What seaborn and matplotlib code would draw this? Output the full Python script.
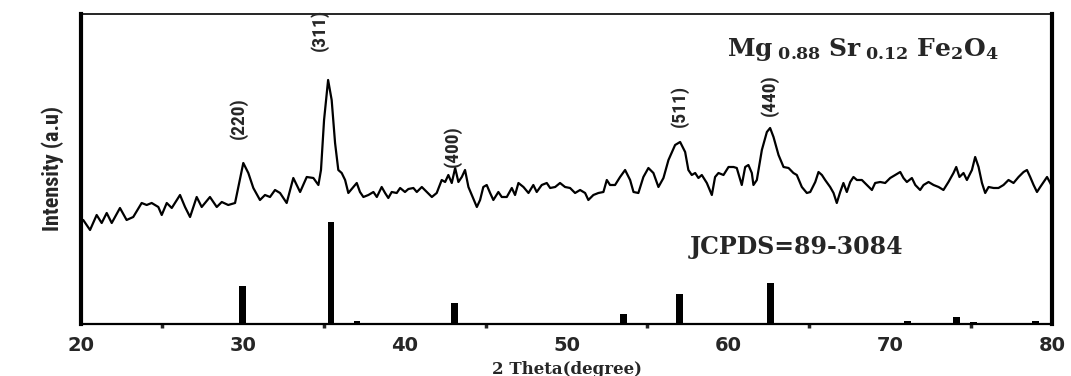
"""XRD pattern of Mg0.88Sr0.12Fe2O4 with JCPDS 89-3084 reference sticks."""

import matplotlib

matplotlib.use("Agg")
import matplotlib.pyplot as plt
import pandas as pd
import seaborn as sns
from matplotlib.ticker import MultipleLocator

TWO_THETA = [
    20.14, 20.56, 20.97, 21.28, 21.59, 21.90, 22.41, 22.82, 23.23, 23.75,
    24.06, 24.37, 24.78, 24.99, 25.30, 25.61, 26.12, 26.43, 26.74, 27.15,
    27.46, 27.97, 28.39, 28.70, 29.10, 29.52, 30.03, 30.34, 30.65, 31.06,
    31.37, 31.68, 31.99, 32.30, 32.71, 33.12, 33.54, 33.95, 34.36, 34.67,
    34.83, 35.02, 35.27, 35.49, 35.70, 35.90, 36.11, 36.32, 36.52, 36.83,
    37.04, 37.24, 37.45, 37.76, 38.07, 38.28, 38.58, 38.79, 38.99, 39.20,
    39.51, 39.72, 40.02, 40.23, 40.54, 40.75, 41.06, 41.37, 41.68, 41.98,
    42.29, 42.50, 42.70, 42.91, 43.12, 43.32, 43.53, 43.73, 43.94, 44.15,
    44.46, 44.66, 44.86, 45.07, 45.28, 45.48, 45.79, 46.00, 46.31, 46.62,
    46.82, 47.03, 47.34, 47.65, 47.95, 48.16, 48.47, 48.78, 48.99, 49.30,
    49.60, 49.91, 50.22, 50.53, 50.84, 51.15, 51.35, 51.66, 51.97, 52.28,
    52.49, 52.69, 53.00, 53.31, 53.62, 53.93, 54.14, 54.44, 54.75, 55.06,
    55.37, 55.68, 55.99, 56.30, 56.71, 57.02, 57.33, 57.53, 57.74, 57.95,
    58.15, 58.36, 58.67, 58.98, 59.18, 59.39, 59.70, 60.01, 60.32, 60.52,
    60.83, 61.04, 61.24, 61.45, 61.55, 61.76, 62.07, 62.38, 62.58, 62.79,
    63.10, 63.41, 63.72, 64.02, 64.23, 64.54, 64.85, 65.06, 65.37, 65.57,
    65.78, 65.98, 66.29, 66.50, 66.70, 66.91, 67.11, 67.32, 67.53, 67.73,
    67.94, 68.25, 68.56, 68.87, 69.07, 69.38, 69.69, 70.00, 70.31, 70.62,
    70.82, 71.03, 71.34, 71.55, 71.85, 72.06, 72.37, 72.68, 72.99, 73.29,
    73.60, 73.91, 74.08, 74.28, 74.53, 74.74, 75.05, 75.25, 75.46, 75.67,
    75.87, 76.08, 76.39, 76.69, 77.00, 77.31, 77.62, 77.93, 78.24, 78.45,
    78.65, 78.86, 79.07, 79.27, 79.48, 79.69, 79.89, 80.00,
]
INTENSITY = [
    104, 94, 109, 101, 111, 101, 116, 104, 107, 121,
    119, 121, 117, 109, 121, 116, 129, 117, 107, 127,
    117, 127, 117, 122, 119, 121, 161, 151, 136, 124,
    129, 127, 134, 131, 121, 146, 132, 147, 146, 139,
    154, 204, 244, 224, 181, 154, 151, 144, 131, 137,
    141, 132, 127, 129, 132, 127, 137, 131, 126, 132,
    131, 136, 132, 135, 136, 132, 137, 132, 127, 131,
    144, 142, 149, 141, 156, 142, 147, 154, 137, 129,
    117, 124, 137, 139, 131, 124, 132, 127, 127, 136,
    129, 141, 137, 131, 139, 132, 139, 141, 136, 137,
    141, 137, 136, 131, 134, 131, 124, 129, 131, 132,
    144, 139, 139, 147, 154, 144, 132, 131, 147, 156,
    151, 137, 146, 164, 179, 182, 172, 154, 149, 151,
    146, 149, 141, 129, 147, 151, 149, 157, 157, 156,
    139, 157, 159, 151, 139, 144, 174, 192, 196, 187,
    169, 157, 156, 151, 149, 137, 131, 132, 142, 152,
    149, 144, 137, 131, 121, 132, 141, 132, 142, 147,
    144, 144, 139, 134, 141, 142, 141, 146, 149, 152,
    146, 142, 146, 139, 134, 139, 142, 139, 137, 134,
    142, 151, 157, 147, 151, 144, 154, 167, 157, 141,
    131, 137, 136, 136, 139, 144, 141, 147, 152, 154,
    147, 139, 132, 137, 142, 147, 141, 137,
]

# JCPDS 89-3084 reference lines
REF_POS = [30.0, 35.45, 37.06, 43.06, 53.5, 57.0, 62.6, 71.05, 74.1, 75.15, 79.0]
REF_HEIGHT = [38, 102, 2.5, 20.5, 10, 30, 41, 3, 6.5, 2, 2.5]

# Miller indices and where their labels sit
HKL = ["(220)", "(311)", "(400)", "(511)", "(440)"]
HKL_POS = [29.75, 34.75, 42.95, 57.0, 62.55]
HKL_Y = [206, 294, 178, 218, 229]

pattern = pd.DataFrame({"two_theta": TWO_THETA, "intensity": INTENSITY})
reference = pd.DataFrame({"two_theta": REF_POS, "height": REF_HEIGHT})

sns.set_style("white")
plt.rcParams["font.family"] = ["DejaVu Sans"]
plt.rcParams["mathtext.fontset"] = "dejavuserif"

narrow = ["Liberation Sans Narrow", "Roboto Condensed", "Liberation Sans"]

fig = plt.figure(figsize=(10.71, 3.76), dpi=100)
ax = fig.add_axes([0.0756, 0.1383, 0.9067, 0.8245])

sns.lineplot(data=pattern, x="two_theta", y="intensity", color="black",
             linewidth=1.6, ax=ax, sort=False)
ax.bar(reference["two_theta"], reference["height"], width=0.42,
       color="black", linewidth=0)

for label, x, y in zip(HKL, HKL_POS, HKL_Y):
    ax.text(x, y, label, rotation=90, ha="center", va="center",
            fontsize=14, fontweight="bold", family=narrow,
            fontstretch="condensed")

ax.text(0.665, 0.885,
        r"$\mathbf{Mg}_{\ \mathbf{0.88}}\ \mathbf{Sr}_{\ \mathbf{0.12}}\ \mathbf{Fe_2O_4}$",
        transform=ax.transAxes, fontsize=18, ha="left", va="center")
ax.text(0.627, 0.248, "JCPDS=89-3084", transform=ax.transAxes,
        fontsize=17, fontweight="bold", family=["DejaVu Serif"],
        ha="left", va="center")

ax.set_xlim(20, 80)
ax.set_ylim(0, 310)
ax.set_yticks([])
ax.xaxis.set_major_locator(MultipleLocator(10))
ax.xaxis.set_minor_locator(MultipleLocator(5))
ax.tick_params(axis="x", which="major", direction="out", length=5, width=2.5,
               labelsize=14, pad=4)
ax.tick_params(axis="x", which="minor", direction="out", length=3, width=2.5,
               bottom=True)
for lbl in ax.get_xticklabels():
    lbl.set_fontweight("bold")

ax.set_xlabel("2 Theta(degree)", fontsize=12, fontweight="bold",
              family=["DejaVu Serif"], labelpad=4)
ax.set_ylabel("Intensity (a.u)", fontsize=16, fontweight="bold", family=narrow,
              fontstretch="condensed", labelpad=12)

ax.spines["left"].set_linewidth(3)
ax.spines["right"].set_linewidth(3)
ax.spines["bottom"].set_linewidth(1.6)
ax.spines["top"].set_linewidth(1.2)
for side in ax.spines.values():
    side.set_color("black")

fig.savefig("out.png", dpi=100)
